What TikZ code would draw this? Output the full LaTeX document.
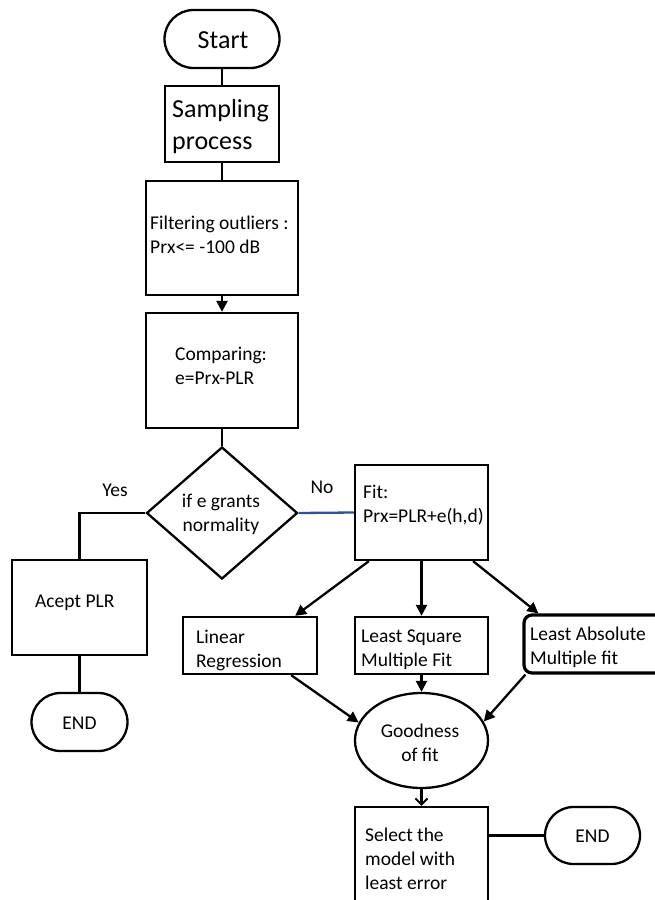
\documentclass[tikz,border=0pt]{standalone}
\usepackage{fontspec}
\setmainfont{Carlito}
\usetikzlibrary{shapes.geometric,shapes.misc,arrows.meta,calc}
\definecolor{nob}{RGB}{47,84,150}
\tikzset{
  box/.style={draw, line width=2.3pt, rectangle, inner sep=0pt},
  term/.style={draw, line width=2.3pt, rounded rectangle, inner sep=0pt},
  txt/.style={font=\fontsize{19.5}{24}\selectfont, align=left, inner sep=0pt},
  big/.style={font=\fontsize{26}{32}\selectfont, align=left, inner sep=0pt},
  ln/.style={line width=2.3pt},
  arr/.style={line width=2.3pt, -{Triangle[length=11pt,width=11pt]}},
  oarr/.style={line width=2.3pt, -{Straight Barb[length=6pt,width=12pt,line width=2pt]}}
}
\begin{document}
\begin{tikzpicture}[x=1pt,y=-1pt]
\useasboundingbox[fill=white] (0,0) rectangle (654,900);
% shapes
\node[term, minimum width=115, minimum height=58] (start) at (222,39) {};
\node[big] (tstart) at (223,40) {Start};
\node[box, minimum width=114, minimum height=76] (samp) at (222,124) {};
\node[big, anchor=west] (tsamp) at (172,127) {Sampling\\process};
\node[box, minimum width=152, minimum height=114] (filt) at (222,238) {};
\node[txt, anchor=west] (tfilt) at (150,235) {Filtering outliers :\\Prx<= -100 dB};
\node[box, minimum width=152, minimum height=115] (comp) at (222,370.5) {};
\node[txt, anchor=west] (tcomp) at (175,366) {Comparing:\\e=Prx-PLR};
\node[draw, line width=2.3pt, diamond, inner sep=0pt, minimum width=151, minimum height=132] (dec) at (222,513) {};
\node[txt, align=center] (tdec) at (221,514) {if e grants\\normality};
\node[box, minimum width=133, minimum height=95] (fit) at (421.5,512.5) {};
\node[txt, anchor=west] (tfit) at (363,505) {Fit:\\Prx=PLR+e(h,d)};
\node[box, minimum width=135, minimum height=95] (acept) at (79.5,607.5) {};
\node[txt, anchor=west] (tacept) at (35,603) {Acept PLR};
\node[term, minimum width=96, minimum height=58] (end1) at (79.5,722) {};
\node[txt] (tend1) at (79.5,723) {END};
\node[box, minimum width=134, minimum height=57] (lin) at (250,645.5) {};
\node[txt, anchor=west] (tlin) at (196,650) {Linear\\Regression};
\node[box, minimum width=133, minimum height=57] (lsq) at (421.5,645.5) {};
\node[txt, anchor=west] (tlsq) at (361,650) {Least Square\\Multiple Fit};
\node[draw, line width=3.2pt, rectangle, rounded corners=8pt, inner sep=0pt, minimum width=140, minimum height=58] (lab) at (594,644) {};
\node[txt, anchor=west] (tlab) at (530,647) {Least Absolute\\Multiple fit};
\node[draw, line width=2.3pt, ellipse, inner sep=0pt, minimum width=133, minimum height=95] (good) at (421.5,740.5) {};
\node[txt, align=center] (tgood) at (420,743) {Goodness\\of fit};
\node[box, minimum width=133, minimum height=100] (sel) at (421.5,857) {};
\node[txt, anchor=west] (tsel) at (365,859) {Select the\\model with\\least error};
\node[term, minimum width=95, minimum height=57] (end2) at (592.5,835.5) {};
\node[txt] (tend2) at (592.5,836) {END};
% labels
\node[txt] (yes) at (115,490) {Yes};
\node[txt] (no) at (322,487) {No};
% connectors
\draw[ln] (start.south) -- (samp.north);
\draw[ln] (samp.south) -- (filt.north);
\draw[arr] (filt.south) -- (comp.north);
\draw[ln] (comp.south) -- (dec.north);
\draw[ln] (dec.west) -| (acept.north);
\draw[line width=2.3pt, nob] (dec.east) -- (fit.west);
\draw[ln] (acept.south) -- (end1.north);
\draw[arr] ([xshift=15pt]fit.south west) -- ([xshift=-23pt]lin.north east);
\draw[arr] (fit.south) -- (lsq.north);
\draw[arr] ([xshift=-16pt]fit.south east) -- ([xshift=16pt]lab.north west);
\draw[arr] ([xshift=-27pt]lin.south east) -- (good.164);
\draw[arr] (lsq.south) -- (good.north);
\draw[arr] ([xshift=3pt]lab.south west) -- (good.17);
\draw[oarr] (good.south) -- (sel.north);
\draw[ln] (end2.west -| sel.east) -- (end2.west);
\end{tikzpicture}
\end{document}
